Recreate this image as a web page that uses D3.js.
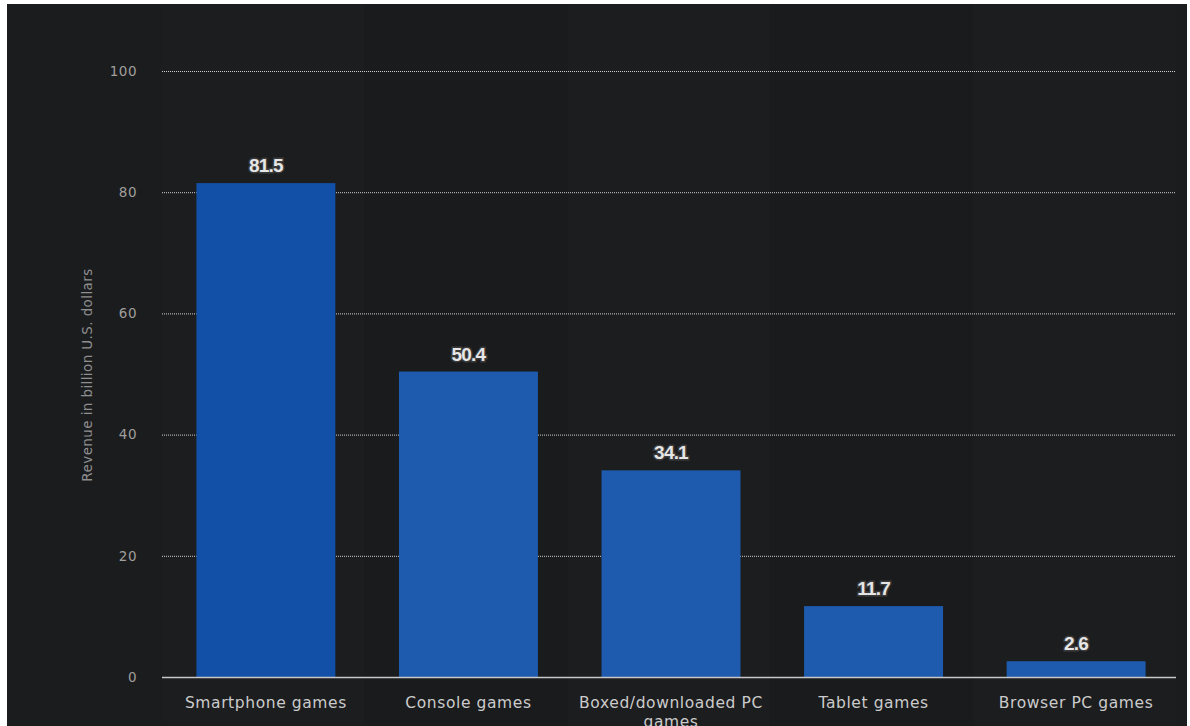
<!DOCTYPE html>
<html>
<head>
<meta charset="utf-8">
<script src="https://cdn.jsdelivr.net/npm/d3@7"></script>
<style>
  html, body { margin: 0; padding: 0; background: #ffffff; }
  svg { display: block; }
</style>
</head>
<body>
<div id="chart"></div>
<script>
const categories = ["Smartphone games", "Console games", "Boxed/downloaded PC games", "Tablet games", "Browser PC games"];
const revenue = [81.5, 50.4, 34.1, 11.7, 2.6];
const yTicks = [0, 20, 40, 60, 80, 100];
const yTitle = "Revenue in billion U.S. dollars";

const width = 1190, height = 726;
const margin = { top: 71, right: 14, bottom: 49, left: 162 };

const svg = d3.select("#chart").append("svg")
  .attr("width", width)
  .attr("height", height);

// white frame round the dark panel
svg.append("rect").attr("width", width).attr("height", height).attr("fill", "#ffffff");
svg.append("rect")
  .attr("x", 7).attr("y", 4)
  .attr("width", 1180).attr("height", height - 4)
  .attr("fill", "#1b1c1e");

const x = d3.scaleBand()
  .domain(categories)
  .range([margin.left + 2, width - margin.right + 2])
  .paddingInner(0.314)
  .paddingOuter(0.16);

const y = d3.scaleLinear()
  .domain([0, 100])
  .range([height - margin.bottom, margin.top]);

// faint alternating column bands
const step = (width - margin.right - margin.left) / categories.length;
svg.selectAll("band")
  .data(categories)
  .enter()
  .append("rect")
  .attr("x", (d, i) => margin.left + i * step)
  .attr("y", 4)
  .attr("width", step)
  .attr("height", height - 4)
  .attr("fill", (d, i) => (i % 2 ? "#1a1b1d" : "#1c1d1f"));

// gridlines
svg.append("g")
  .selectAll("line")
  .data(yTicks.filter((t) => t > 0))
  .enter()
  .append("line")
  .attr("x1", margin.left)
  .attr("x2", width - margin.right)
  .attr("y1", (d) => y(d) + 0.5)
  .attr("y2", (d) => y(d) + 0.5)
  .attr("stroke", "#d0d0d0")
  .attr("stroke-width", 1)
  .attr("stroke-dasharray", "1,1");

// y tick labels
svg.append("g")
  .selectAll("text")
  .data(yTicks)
  .enter()
  .append("text")
  .attr("x", margin.left - 25)
  .attr("y", (d) => y(d))
  .attr("dy", "0.35em")
  .attr("text-anchor", "end")
  .attr("fill", "#a09f9c")
  .style("font-family", "'DejaVu Sans', sans-serif")
  .style("font-size", "13.5px")
  .style("letter-spacing", "0.5px")
  .text((d) => d);

// y axis title
svg.append("text")
  .attr("transform", "translate(92,375) rotate(-90)")
  .attr("text-anchor", "middle")
  .attr("fill", "#8f8f8f")
  .style("font-family", "'DejaVu Sans', sans-serif")
  .style("font-size", "13.5px")
  .style("letter-spacing", "0.4px")
  .text(yTitle);

// bars
svg.append("g")
  .selectAll("rect")
  .data(revenue)
  .enter()
  .append("rect")
  .attr("x", (d, i) => x(categories[i]))
  .attr("y", (d) => y(d))
  .attr("width", x.bandwidth())
  .attr("height", (d) => y(0) - y(d))
  .attr("fill", (d, i) => (i === 0 ? "#1150a6" : "#1e5bae"));

// baseline
svg.append("line")
  .attr("x1", margin.left)
  .attr("x2", width - margin.right)
  .attr("y1", y(0) + 0.5)
  .attr("y2", y(0) + 0.5)
  .attr("stroke", "#c8c8c8")
  .attr("stroke-width", 1.5);

// value labels
svg.append("g")
  .selectAll("text")
  .data(revenue)
  .enter()
  .append("text")
  .attr("x", (d, i) => x(categories[i]) + x.bandwidth() / 2)
  .attr("y", (d) => y(d) - 11)
  .attr("text-anchor", "middle")
  .attr("fill", "#e6e6e6")
  .attr("stroke", "#3a3a3a")
  .attr("stroke-width", 3)
  .attr("paint-order", "stroke")
  .style("font-family", "'Liberation Sans', sans-serif")
  .style("font-weight", "bold")
  .style("font-size", "19px")
  .style("letter-spacing", "-0.8px")
  .text((d) => d);

// category labels, wrapped
const catLabels = svg.append("g")
  .selectAll("text")
  .data(categories)
  .enter()
  .append("text")
  .attr("x", (d) => x(d) + x.bandwidth() / 2)
  .attr("y", y(0) + 31)
  .attr("text-anchor", "middle")
  .attr("fill", "#cbcbcb")
  .style("font-family", "'DejaVu Sans', sans-serif")
  .style("font-size", "15.5px")
  .style("letter-spacing", "0.6px");

catLabels.each(function (d) {
  const t = d3.select(this);
  const lines = d === "Boxed/downloaded PC games" ? ["Boxed/downloaded PC", "games"] : [d];
  lines.forEach((ln, k) => {
    t.append("tspan")
      .attr("x", x(d) + x.bandwidth() / 2)
      .attr("dy", k === 0 ? 0 : "1.2em")
      .text(ln);
  });
});
</script>
</body>
</html>
